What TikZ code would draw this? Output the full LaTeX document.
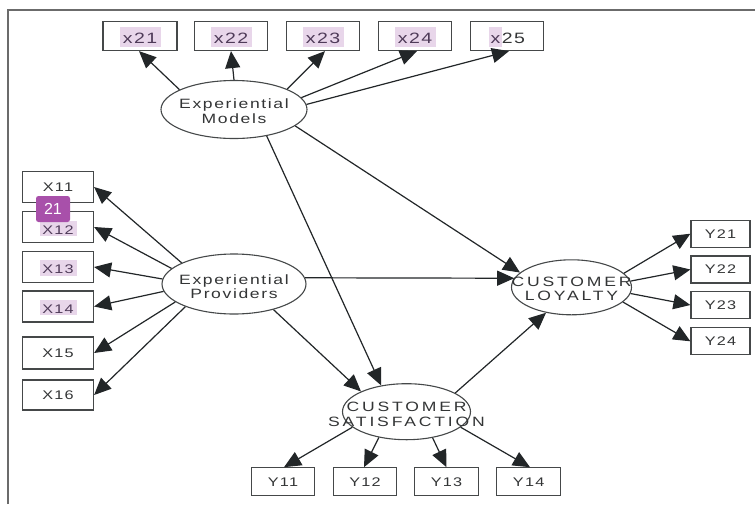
\documentclass[tikz,border=0pt]{standalone}
\usepackage{fontspec}
\setmainfont{Liberation Sans}
\newfontfamily\latf[FakeStretch=1.3,LetterSpace=12]{Liberation Sans}
\newfontfamily\capf[FakeStretch=1.3,LetterSpace=21]{Liberation Sans}
\newfontfamily\boxf[FakeStretch=1.3,LetterSpace=10]{Liberation Sans}
\usetikzlibrary{arrows.meta,shapes.geometric}
\definecolor{ink}{HTML}{222628}
\definecolor{edge}{HTML}{454849}
\definecolor{txt}{HTML}{333536}
\definecolor{hl}{HTML}{E8D6EA}
\definecolor{hltxt}{HTML}{4E3A58}
\definecolor{badge}{HTML}{A850AA}
\tikzset{
 x=1pt,y=-1pt,
 box/.style={draw=edge,line width=1.2pt,minimum height=#1,inner sep=0pt,font=\fontsize{12.5}{13}\selectfont\boxf,text=txt,fill=white},
 box/.default=29pt,
 top/.style={box,font=\fontsize{15}{15}\selectfont\boxf},
 lat/.style={draw=edge,line width=1.1pt,ellipse,inner sep=0pt,font=\fontsize{13.5}{14}\selectfont\latf,text=txt},
 latc/.style={lat,font=\fontsize{13.5}{13.5}\selectfont\capf},
 arr/.style={draw=ink,line width=1.2pt,-{Triangle[length=17pt,width=15pt]}},
}
% highlight: [trailing text]{width}{height}{depth}{lowering}{text}
\newcommand{\hlbox}[6][]{\raisebox{-#5}[0pt][0pt]{\makebox[0pt][l]{\textcolor{hl}{\rule[-#4]{#2}{#3}}}\makebox[#2][c]{\textcolor{hltxt}{#6}}#1}}
% two centred lines that overflow the ellipse: raise1, line1, raise2, line2
\newcommand{\twolines}[4]{\makebox[0pt][c]{\raisebox{#1}[0pt][0pt]{#2}}\makebox[0pt][c]{\raisebox{#3}[0pt][0pt]{#4}}}
\begin{document}
\begin{tikzpicture}
\useasboundingbox (0,0) rectangle (755,504);
\fill[white] (0,0) rectangle (755,504);
\draw[draw=black!58,line width=2pt] (7.5,504) -- (7.5,9.5) -- (755,9.5);
\node[top,minimum width=74pt] (x21) at (140,36) {\hlbox{41pt}{19.4pt}{3.4pt}{7.3pt}{x21}};
\node[top,minimum width=73pt] (x22) at (231,36) {\hlbox{41pt}{19.4pt}{3.4pt}{7.3pt}{x22}};
\node[top,minimum width=73pt] (x23) at (323,36) {\hlbox{41pt}{19.4pt}{3.4pt}{7.3pt}{x23}};
\node[top,minimum width=73pt] (x24) at (415,36) {\hlbox{41pt}{19.4pt}{3.4pt}{7.3pt}{x24}};
\node[top,minimum width=73pt] (x25) at (507,36) {\hlbox[25]{13pt}{19.4pt}{3.4pt}{7.3pt}{x}};
\node[box=31pt,minimum width=71pt] (X11) at (58,187) {X11};
\node[box=31pt,minimum width=71pt] (X12) at (58,227) {\hlbox{37pt}{15.3pt}{2pt}{7pt}{X12}};
\node[box=31pt,minimum width=71pt] (X13) at (58,267) {\hlbox{37pt}{15.3pt}{2pt}{6.5pt}{X13}};
\node[box=31pt,minimum width=71pt] (X14) at (58,306.5) {\hlbox{37pt}{15.3pt}{2pt}{6.5pt}{X14}};
\node[box=32pt,minimum width=71pt] (X15) at (58,353) {\raisebox{-1.5pt}{X15}};
\node[box=30pt,minimum width=71pt] (X16) at (58,395) {\raisebox{-1.5pt}{X16}};
\node[box=27pt,minimum width=59pt] (Y21) at (720.5,233.7) {Y21};
\node[box=27pt,minimum width=59pt] (Y22) at (720.5,269.5) {Y22};
\node[box=27pt,minimum width=59pt] (Y23) at (720.5,305) {Y23};
\node[box=27pt,minimum width=59pt] (Y24) at (720.5,341.3) {Y24};
\node[box=28pt,minimum width=63pt] (Y11) at (283,481.8) {Y11};
\node[box=28pt,minimum width=63pt] (Y12) at (365,481.8) {Y12};
\node[box=28pt,minimum width=64pt] (Y13) at (446.5,481.8) {Y13};
\node[box=28pt,minimum width=64pt] (Y14) at (528.7,481.8) {Y14};
\node[lat,minimum width=146pt,minimum height=58pt] (EM) at (234,109.5) {\twolines{1pt}{Experiential}{-13.5pt}{Models}};
\node[lat,minimum width=144pt,minimum height=60pt] (EP) at (234,284) {\twolines{-0.5pt}{Experiential}{-14pt}{Providers}};
\node[latc,minimum width=120pt,minimum height=55pt] (CL) at (571.5,287.3) {\twolines{0.6pt}{CUSTOMER}{-12.7pt}{LOYALTY}};
\node[latc,minimum width=128pt,minimum height=56pt] (CS) at (406.5,411.7) {\twolines{0pt}{CUSTOMER}{-14.3pt}{SATISFACTION}};
\draw[arr] (EM.160.6) -- ([xshift=-1pt]x21.south);
\draw[arr] (EM.90) -- (x22.south);
\draw[arr] (EM.21.6) -- ([xshift=2pt]x23.south);
\draw[arr] (EM.10) -- ([xshift=2pt]x24.south);
\draw[arr] (EM.4.7) -- ([xshift=2pt]x25.south);
\draw[arr] (EM.-15) -- (CL.164.4);
\draw[arr] (EM.-39.5) -- (CS.134.7);
\draw[arr] (EP.5.3) -- (CL.171);
\draw[arr] (EP.-33.7) -- (CS.156.7);
\draw[arr] (CS.21.5) -- (CL.225.7);
\draw[arr] (EP.158.7) -- (X11.east);
\draw[arr] (EP.166.8) -- (X12.east);
\draw[arr] (EP.176) -- (X13.east);
\draw[arr] (EP.186) -- (X14.east);
\draw[arr] (EP.197) -- (X15.east);
\draw[arr] (EP.205) -- (X16.east);
\draw[arr] (CL.15.7) -- (Y21.west);
\draw[arr] (CL.6.3) -- (Y22.west);
\draw[arr] (CL.-6.5) -- (Y23.west);
\draw[arr] (CL.-16.5) -- (Y24.west);
\draw[arr] (CS.196.8) -- ([xshift=1pt]Y11.north);
\draw[arr] (CS.223.8) -- ([xshift=-1pt]Y12.north);
\draw[arr] (CS.-45) -- (Y13.north);
\draw[arr] (CS.-16.4) -- ([xshift=1.3pt]Y14.north);
\node[fill=badge,rounded corners=2.5pt,minimum width=34pt,minimum height=26pt,inner sep=0pt,text=white,font=\fontsize{16}{16}\selectfont] (badge) at (53,209) {21};
\end{tikzpicture}
\end{document}
